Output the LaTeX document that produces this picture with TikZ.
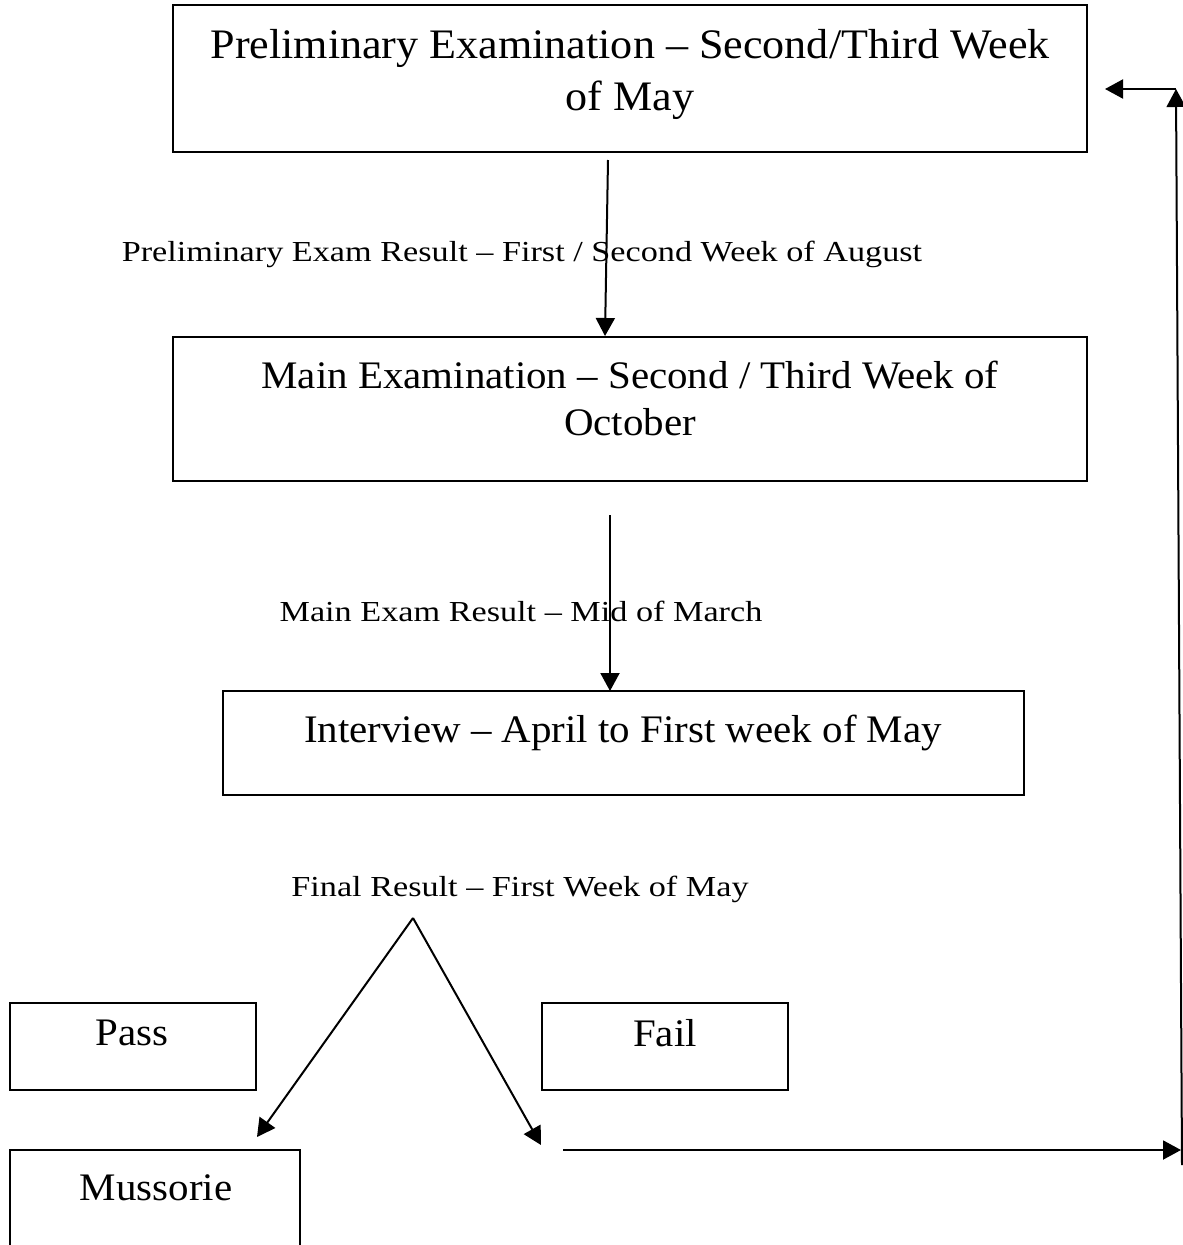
\documentclass[tikz,border=0pt]{standalone}
\usepackage{fontspec}
\setmainfont[FakeStretch=1.05]{Liberation Serif}
\newfontfamily\labelfont[FakeStretch=1.18]{Liberation Serif}
\usetikzlibrary{arrows.meta}
\tikzset{
  big/.style={font=\fontsize{39}{47}\selectfont, inner sep=0pt, align=center},
  bigger/.style={font=\fontsize{42}{52}\selectfont, inner sep=0pt, align=center},
  small/.style={font=\labelfont\fontsize{29}{32}\selectfont, inner sep=0pt},
  arr/.style={line width=2pt, -{Triangle[length=18pt,width=19pt]}},
  frame/.style={line width=1.3pt}
}
\begin{document}
\begin{tikzpicture}[x=1pt,y=-1pt]
\useasboundingbox (0,0) rectangle (1183,1245);
\clip (0,0) rectangle (1183,1245);
% boxes
\draw[frame] (173,5) rectangle (1087,152);
\node[bigger] (t1) at (630,74) {Preliminary Examination – Second/Third Week\\of May};
\draw[frame] (173,337) rectangle (1087,481);
\node[big] (t2) at (630,398) {Main Examination – Second / Third Week of\\October};
\draw[frame] (223,691) rectangle (1024,795);
\node[big] (t3) at (623,733) {Interview – April to First week of May};
\draw[frame] (10,1003) rectangle (256,1090);
\node[big] (pass) at (132,1033) {Pass};
\draw[frame] (542,1003) rectangle (788,1090);
\node[big] (fail) at (665,1033) {Fail};
\draw[frame] (10,1150) rectangle (300,1260);
\node[big] (muss) at (156,1188) {Mussorie};
% labels
\node[small] (l1) at (522,254) {Preliminary Exam Result – First / Second Week of August};
\node[small] (l2) at (521,611) {Main Exam Result – Mid of March};
\node[small] (l3) at (520,889) {Final Result – First Week of May};
% connector points
\coordinate (a1s) at (608,160);
\coordinate (a1e) at (605,336);
\coordinate (a2s) at (610,515);
\coordinate (a2e) at (610,691);
\coordinate (apex) at (413,918);
\coordinate (le) at (257,1137);
\coordinate (re) at (541,1145);
\coordinate (hs) at (563,1150);
\coordinate (he) at (1181,1150);
\coordinate (vs) at (1182,1165);
\coordinate (ve) at (1176,89);
\coordinate (te) at (1105,89);
% connectors
\draw[arr] (a1s) -- (a1e);
\draw[arr] (a2s) -- (a2e);
\draw[arr] (apex) -- (le);
\draw[arr] (apex) -- (re);
\draw[arr] (hs) -- (he);
\draw[arr] (vs) -- (ve);
\draw[arr] (ve) -- (te);
\end{tikzpicture}
\end{document}
